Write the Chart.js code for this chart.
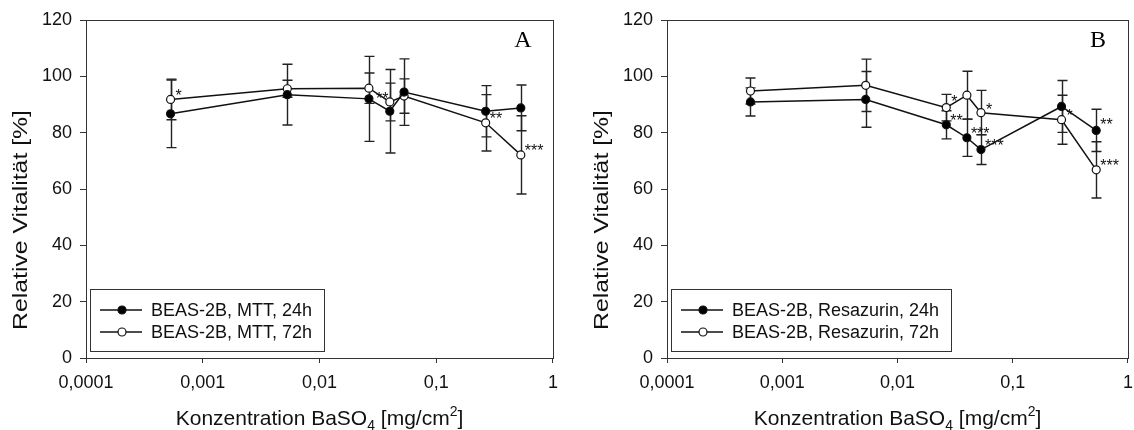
<!DOCTYPE html>
<html>
<head>
<meta charset="utf-8">
<script src="https://cdn.jsdelivr.net/npm/chart.js@4.4.1/dist/chart.umd.min.js"></script>
<style>
  body { margin: 0; background: #fff; width: 1134px; height: 430px; overflow: hidden; position: relative; }
  canvas { position: absolute; top: 0; }
  #chartA { left: 0; }
  #chartB { left: 567px; }
</style>
</head>
<body>
<canvas id="chartA" width="567" height="430"></canvas>
<canvas id="chartB" width="575" height="430"></canvas>
<script>
// Konzentrationen (mg/cm²), gleiche Stufen für beide Tests
const konzentration = [0.00053, 0.0053, 0.0265, 0.04, 0.053, 0.265, 0.53];
const xTicks = [0.0001, 0.001, 0.01, 0.1, 1];

// A: MTT
const mtt24 = [86.7, 93.5, 92.0, 87.6, 94.4, 87.6, 88.8];
const mtt24Err = [12.0, 10.8, 15.1, 14.8, 11.8, 9.1, 8.1];
const mtt24Sig = ['', '', '', '', '', '', ''];
const mtt72 = [91.8, 95.6, 95.8, 90.9, 93.0, 83.5, 72.1];
const mtt72Err = [7.2, 3.0, 5.4, 6.7, 6.1, 10.0, 13.9];
const mtt72Sig = ['*', '', '**', '', '', '**', '***'];

// B: Resazurin
const resa24 = [90.9, 91.8, 82.8, 78.2, 74.0, 89.3, 80.8];
const resa24Err = [5.0, 9.9, 5.0, 6.6, 5.3, 9.2, 7.5];
const resa24Sig = ['', '', '**', '***', '***', '', '**'];
const resa72 = [94.8, 96.8, 88.9, 93.3, 87.1, 84.6, 66.8];
const resa72Err = [4.6, 9.3, 4.7, 8.5, 7.9, 8.7, 10.0];
const resa72Sig = ['', '', '*', '', '*', '*', '***'];

const FONT = "'Liberation Sans', Arial, sans-serif";

// Fehlerbalken, Rahmen, Legende, Sterne, Achsentitel
const panelPlugin = {
  id: 'panel',
  beforeDatasetsDraw(chart, args, opts) {
    const { ctx, chartArea: a, scales: { x, y } } = chart;
    ctx.save();
    ctx.strokeStyle = '#333';
    ctx.lineWidth = 1;
    ctx.strokeRect(a.left + 0.5, a.top + 0.5, a.right - a.left, a.bottom - a.top);

    ctx.strokeStyle = '#222';
    ctx.lineWidth = 1.4;
    chart.data.datasets.forEach(ds => {
      ds.data.forEach((p, i) => {
        const px = Math.round(x.getPixelForValue(p.x)) + 0.5;
        const top = y.getPixelForValue(p.y + ds.fehler[i]);
        const bot = y.getPixelForValue(p.y - ds.fehler[i]);
        ctx.beginPath();
        ctx.moveTo(px, top); ctx.lineTo(px, bot);
        ctx.moveTo(px - 5, top); ctx.lineTo(px + 5, top);
        ctx.moveTo(px - 5, bot); ctx.lineTo(px + 5, bot);
        ctx.stroke();
      });
    });
    ctx.restore();
  },
  afterDatasetsDraw(chart, args, opts) {
    const { ctx, chartArea: a, scales: { x, y } } = chart;
    ctx.save();

    // Signifikanzsterne
    ctx.fillStyle = '#111';
    ctx.font = '16px ' + FONT;
    ctx.textAlign = 'left';
    ctx.textBaseline = 'alphabetic';
    chart.data.datasets.forEach((ds, d) => {
      ds.data.forEach((p, i) => {
        const s = ds.sterne[i];
        if (!s) return;
        const off = (opts.sternOffset[d + ':' + i]) || [4, -8];
        const px = x.getPixelForValue(p.x) + off[0];
        const py = y.getPixelForValue(p.y) + off[1] + 9;
        ctx.fillText(s, px, py);
      });
    });

    // Panelbuchstabe
    ctx.font = '24px "Liberation Serif", "Times New Roman", serif';
    ctx.textAlign = 'center';
    ctx.fillStyle = '#000';
    ctx.fillText(opts.buchstabe, a.right - 30, a.top + 27);

    // Legende
    ctx.font = '18px ' + FONT;
    ctx.textAlign = 'left';
    ctx.textBaseline = 'middle';
    const labels = chart.data.datasets.map(ds => ds.label);
    const tw = Math.max(...labels.map(t => ctx.measureText(t).width));
    const lx = a.left + 4, lh = 62, ly = a.bottom - 7 - lh;
    const lw = 61 + tw + 12;
    ctx.strokeStyle = '#333';
    ctx.lineWidth = 1;
    ctx.strokeRect(Math.round(lx) + 0.5, Math.round(ly) + 0.5, Math.round(lw), lh);
    chart.data.datasets.forEach((ds, d) => {
      const ry = ly + 21 + d * 22;
      ctx.strokeStyle = '#111';
      ctx.lineWidth = 1.5;
      ctx.beginPath();
      ctx.moveTo(lx + 10, ry); ctx.lineTo(lx + 52, ry);
      ctx.stroke();
      ctx.beginPath();
      ctx.arc(lx + 32, ry, 4, 0, Math.PI * 2);
      ctx.fillStyle = ds.pointBackgroundColor;
      ctx.fill();
      ctx.lineWidth = 1.2;
      ctx.stroke();
      ctx.fillStyle = '#111';
      ctx.fillText(ds.label, lx + 61, ry + 1);
    });

    // y-Achsentitel
    ctx.save();
    ctx.translate(a.left - 59, 220);
    ctx.rotate(-Math.PI / 2);
    ctx.scale(1.18, 1);
    ctx.font = '21px ' + FONT;
    ctx.textAlign = 'center';
    ctx.textBaseline = 'alphabetic';
    ctx.fillStyle = '#111';
    ctx.fillText('Relative Vitalität [%]', 0, 0);
    ctx.restore();

    // x-Achsentitel mit Index und Exponent
    const teile = [
      ['Konzentration BaSO', 21, 0],
      ['4', 14, 5],
      [' [mg/cm', 21, 0],
      ['2', 14, -9],
      [']', 21, 0]
    ];
    ctx.textAlign = 'left';
    ctx.textBaseline = 'alphabetic';
    ctx.fillStyle = '#111';
    let breite = 0;
    teile.forEach(t => { ctx.font = t[1] + 'px ' + FONT; breite += ctx.measureText(t[0]).width; });
    let tx = (a.left + a.right) / 2 - breite / 2;
    teile.forEach(t => {
      ctx.font = t[1] + 'px ' + FONT;
      ctx.fillText(t[0], tx, 425 + t[2]);
      tx += ctx.measureText(t[0]).width;
    });

    ctx.restore();
  }
};

function serie(label, werte, fehler, sterne, offen) {
  return {
    label: label,
    data: konzentration.map((k, i) => ({ x: k, y: werte[i] })),
    fehler: fehler,
    sterne: sterne,
    borderColor: '#111',
    borderWidth: 1.5,
    pointRadius: 4,
    pointBorderWidth: 1.2,
    pointBorderColor: '#111',
    pointBackgroundColor: offen ? '#fff' : '#000',
    tension: 0
  };
}

function panel(id, datasets, buchstabe, yBreite, rechts, sternOffset) {
  new Chart(document.getElementById(id), {
    type: 'line',
    data: { datasets: datasets },
    plugins: [panelPlugin],
    options: {
      responsive: false,
      animation: false,
      layout: { padding: { left: 0, right: rechts, top: 20, bottom: 0 } },
      plugins: {
        legend: { display: false },
        tooltip: { enabled: false },
        panel: { buchstabe: buchstabe, sternOffset: sternOffset }
      },
      scales: {
        x: {
          type: 'logarithmic',
          min: 0.0001,
          max: 1,
          afterBuildTicks: s => { s.ticks = xTicks.map(v => ({ value: v })); },
          afterFit: s => { s.height = 72; },
          border: { display: false },
          grid: { drawOnChartArea: false, drawTicks: true, tickLength: 5, color: '#333' },
          ticks: {
            autoSkip: false,
            maxRotation: 0,
            padding: 9,
            color: '#111',
            font: { family: FONT, size: 18 },
            callback: v => String(v).replace('.', ',')
          }
        },
        y: {
          min: 0,
          max: 120,
          afterFit: s => { s.width = yBreite; },
          border: { display: false },
          grid: { drawOnChartArea: false, drawTicks: true, tickLength: 6, color: '#333' },
          ticks: {
            stepSize: 20,
            padding: 8,
            color: '#111',
            font: { family: FONT, size: 18 }
          }
        }
      }
    }
  });
}

panel('chartA', [
  serie('BEAS-2B, MTT, 24h', mtt24, mtt24Err, mtt24Sig, false),
  serie('BEAS-2B, MTT, 72h', mtt72, mtt72Err, mtt72Sig, true)
], 'A', 86, 14, { '1:2': [7, 7], '1:0': [5, -7] });

panel('chartB', [
  serie('BEAS-2B, Resazurin, 24h', resa24, resa24Err, resa24Sig, false),
  serie('BEAS-2B, Resazurin, 72h', resa72, resa72Err, resa72Sig, true)
], 'B', 100, 10, { '1:2': [5, -10], '1:4': [5, -7], '1:5': [5, -8], '0:6': [4, -9] });
</script>
</body>
</html>
